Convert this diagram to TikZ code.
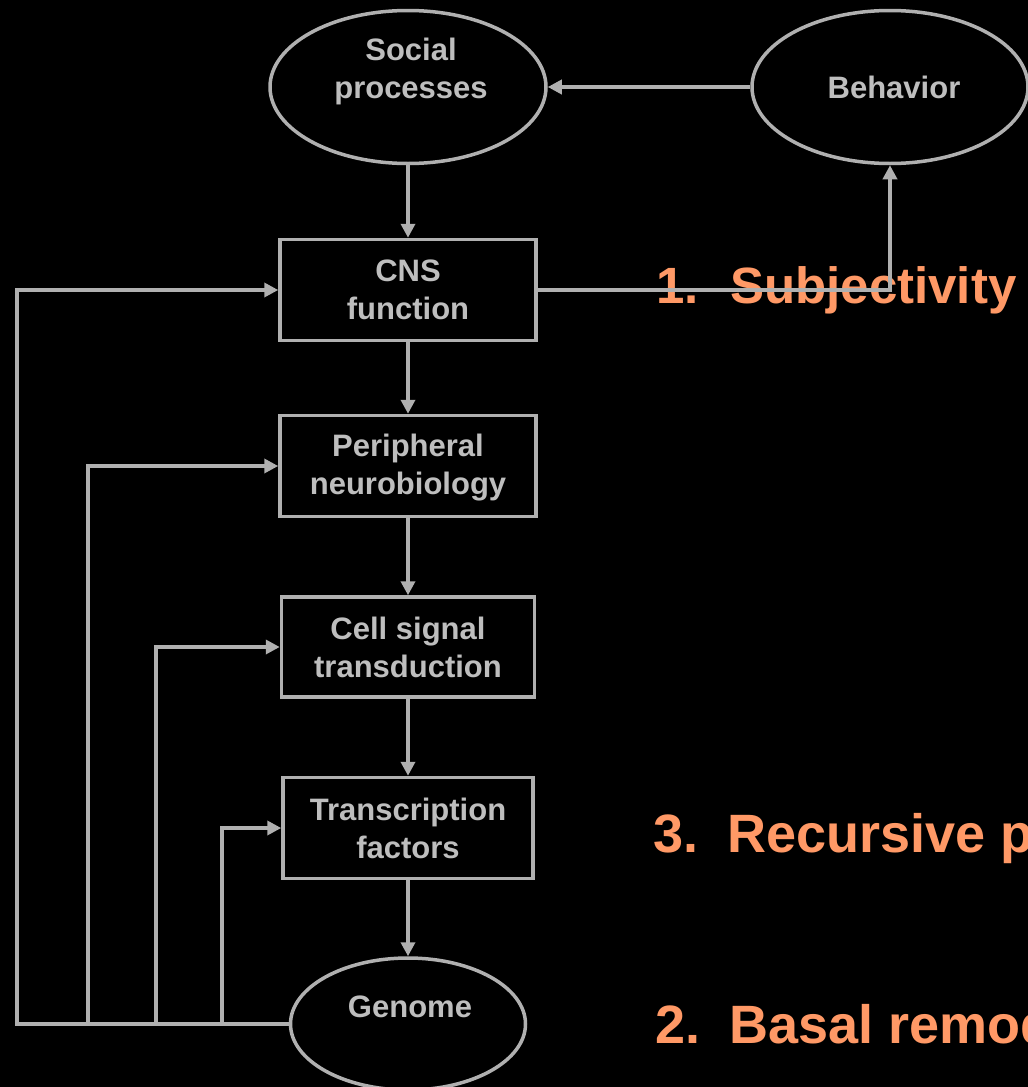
\documentclass[tikz,border=0pt]{standalone}
\usepackage{fontspec}
\setmainfont{Liberation Sans}
\usetikzlibrary{shapes.geometric,arrows.meta}
\definecolor{linegray}{HTML}{B0B0B0}
\definecolor{textgray}{HTML}{BEBEBE}
\definecolor{accent}{HTML}{FF9966}
\begin{document}
\begin{tikzpicture}[x=1pt,y=-1pt,
  every node/.style={text=textgray,font=\fontsize{31}{38}\selectfont\bfseries,align=center,inner sep=0pt},
  oval/.style={ellipse,draw=linegray,line width=3.5pt,minimum width=276pt,minimum height=153pt},
  stage/.style={rectangle,draw=linegray,line width=3.5pt},
  link/.style={draw=linegray,line width=3.5pt,line join=miter,-{Triangle[length=14pt,width=14pt]}},
  item/.style={anchor=base west,text=accent,font=\fontsize{54}{64}\selectfont\bfseries,align=left}]
\fill[black] (0,0) rectangle (1028,1087);
\useasboundingbox (0,0) rectangle (1028,1087);
\clip (0,0) rectangle (1028,1087);

% levels of the cascade
\node[oval] (soc) at (408,87) {};
\node at (411,71) {Social\\processes};
\node[oval] (beh) at (890,87) {};
\node at (894,87) {Behavior};
\node[stage,minimum width=256pt,minimum height=101pt] (cns) at (408,290) {CNS\\function};
\node[stage,minimum width=256pt,minimum height=101pt] (per) at (408,466) {};
\node at (408,468) {Peripheral\\neurobiology};
\node[stage,minimum width=253pt,minimum height=100pt] (cell) at (408,647) {Cell signal\\transduction};
\node[stage,minimum width=250pt,minimum height=101pt] (tf) at (408,828) {Transcription\\factors};
\node[oval,minimum width=235pt,minimum height=132pt] (gen) at (408,1024) {};
\node at (410,1007) {Genome};

% numbered points
\node[item,font=\fontsize{51}{60}\selectfont\bfseries] (p1) at (656,303) {\makebox[74pt][l]{1.}Subjectivity};
\node[item] (p3) at (653,852) {\makebox[74pt][l]{3.}Recursive p};
\node[item] (p2) at (655,1043) {\makebox[74pt][l]{2.}Basal remod};

% downward chain
\draw[link] (soc.south) -- (cns.north);
\draw[link] (cns.south) -- (per.north);
\draw[link] (per.south) -- (cell.north);
\draw[link] (cell.south) -- (tf.north);
\draw[link] (tf.south) -- (gen.north);

% behaviour loop
\draw[link] (beh.west) -- (soc.east);
\draw[link] (cns.east) -| (beh.south);

% feedback from the genome
\coordinate (k1) at (17,1024);
\coordinate (k2) at (88,1024);
\coordinate (k3) at (156,1024);
\coordinate (k4) at (222,1024);
\draw[link] (gen.west) -- (k1) |- (cns.west);
\draw[link] (k2) |- (per.west);
\draw[link] (k3) |- (cell.west);
\draw[link] (k4) |- (tf.west);
\end{tikzpicture}
\end{document}
